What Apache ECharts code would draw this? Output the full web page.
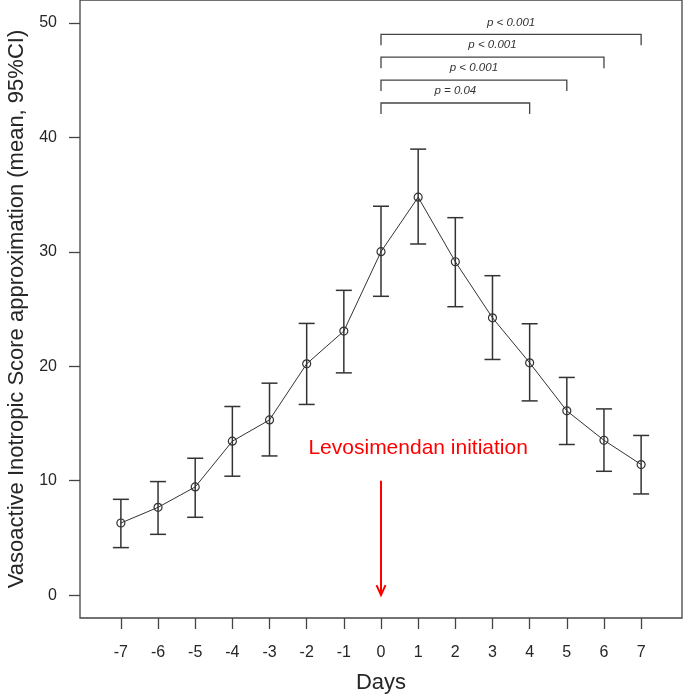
<!DOCTYPE html>
<html>
<head>
<meta charset="utf-8">
<script src="https://cdn.jsdelivr.net/npm/echarts@6/dist/echarts.min.js"></script>
<style>html,body{margin:0;padding:0;background:#fff}#chart{width:685px;height:697px}</style>
</head>
<body>
<div id="chart"></div>
<script>
// ---- data ----
const days = [-7, -6, -5, -4, -3, -2, -1, 0, 1, 2, 3, 4, 5, 6, 7];
const meanVIS = [6.30, 7.67, 9.45, 13.45, 15.31, 20.21, 23.07, 30.01, 34.77, 29.13, 24.23, 20.30, 16.10, 13.53, 11.41];
const ciLower = [4.15, 5.31, 6.80, 10.39, 12.16, 16.66, 19.42, 26.11, 30.68, 25.20, 20.59, 16.97, 13.16, 10.82, 8.84];
const ciUpper = [8.37, 9.92, 11.96, 16.48, 18.52, 23.74, 26.63, 33.98, 38.97, 32.98, 27.91, 23.71, 19.02, 16.27, 13.95];
const xTicks = [-7, -6, -5, -4, -3, -2, -1, 0, 1, 2, 3, 4, 5, 6, 7];
const yTicks = [0, 10, 20, 30, 40, 50];
const compStart = [0, 0, 0, 0];
const compEnd = [7, 6, 5, 4];
const compLevel = [49, 47, 45, 43];
const compLabels = ['p < 0.001', 'p < 0.001', 'p < 0.001', 'p = 0.04'];
const arrowDay = 0, arrowFrom = 10, arrowTo = 0;
const noteText = 'Levosimendan initiation';
const notePos = [1, 12.8];

const FONT = '"Liberation Sans", Arial, Helvetica, sans-serif';
const INK = '#262626';

const chart = echarts.init(document.getElementById('chart'));
const option = {
  animation: false,
  backgroundColor: '#fff',
  grid: { left: 80, right: 3, top: 0, bottom: 79, containLabel: false, outerBoundsMode: 'none',
          show: true, borderColor: '#444', borderWidth: 1.3, backgroundColor: 'transparent' },
  xAxis: {
    type: 'value', min: -8.1, max: 8.1,
    name: 'Days', nameLocation: 'middle', nameGap: 54,
    nameTextStyle: { fontFamily: FONT, fontSize: 22, color: INK },
    axisLine: { show: false, onZero: false },
    splitLine: { show: false },
    axisTick: { show: true, inside: false, length: 11, customValues: xTicks, lineStyle: { color: '#444', width: 1.3 } },
    axisLabel: { customValues: xTicks, margin: 27, fontFamily: FONT, fontSize: 16, color: INK }
  },
  yAxis: {
    type: 'value', min: -2, max: 52,
    name: 'Vasoactive Inotropic Score approximation (mean, 95%CI)', nameLocation: 'middle', nameGap: 52,
    nameTextStyle: { fontFamily: FONT, fontSize: 22, color: INK },
    axisLine: { show: false, onZero: false },
    splitLine: { show: false },
    axisTick: { show: true, inside: false, length: 11, customValues: yTicks, lineStyle: { color: '#444', width: 1.3 } },
    axisLabel: { customValues: yTicks, margin: 23, fontFamily: FONT, fontSize: 16, color: INK }
  },
  series: [
    {
      type: 'custom', name: 'ci', z: 2,
      data: days.map((d, i) => [d, ciLower[i], ciUpper[i]]),
      encode: { x: 0, y: [1, 2] },
      renderItem: function (params, api) {
        const x = api.value(0);
        const lo = api.coord([x, api.value(1)]);
        const hi = api.coord([x, api.value(2)]);
        const hw = 8;
        const st = { stroke: '#333', lineWidth: 1.5 };
        return { type: 'group', children: [
          { type: 'line', shape: { x1: hi[0], y1: hi[1], x2: lo[0], y2: lo[1] }, style: st },
          { type: 'line', shape: { x1: hi[0] - hw, y1: hi[1], x2: hi[0] + hw, y2: hi[1] }, style: st },
          { type: 'line', shape: { x1: lo[0] - hw, y1: lo[1], x2: lo[0] + hw, y2: lo[1] }, style: st }
        ]};
      }
    },
    {
      type: 'line', name: 'mean', z: 3,
      data: days.map((d, i) => [d, meanVIS[i]]),
      symbol: 'circle', symbolSize: 8,
      lineStyle: { color: '#333', width: 1 },
      itemStyle: { color: 'rgba(255,255,255,0)', borderColor: '#333', borderWidth: 1.2 }
    },
    {
      type: 'custom', name: 'brackets', z: 4,
      data: compEnd.map((e, i) => [compStart[i], e, compLevel[i]]),
      encode: { x: [0, 1], y: 2 },
      renderItem: function (params, api) {
        const a = api.coord([api.value(0), api.value(2)]);
        const b = api.coord([api.value(1), api.value(2)]);
        const drop = 11;
        return { type: 'group', children: [
          { type: 'polyline', shape: { points: [[a[0], a[1] + drop], [a[0], a[1]], [b[0], b[1]], [b[0], b[1] + drop]] },
            style: { stroke: '#444', lineWidth: 1.3, fill: null } },
          { type: 'text', x: (a[0] + b[0]) / 2, y: a[1] - 12,
            style: { text: compLabels[params.dataIndex], textAlign: 'center', textVerticalAlign: 'middle',
              font: 'italic 11.5px ' + FONT, fill: '#333' } }
        ]};
      }
    },
    {
      type: 'custom', name: 'annotation', z: 5,
      data: [[arrowDay, arrowFrom, arrowTo, notePos[0], notePos[1]]],
      encode: { x: [0, 3], y: [1, 2, 4] },
      renderItem: function (params, api) {
        const s = api.coord([api.value(0), api.value(1)]);
        const t = api.coord([api.value(0), api.value(2)]);
        const n = api.coord([api.value(3), api.value(4)]);
        const st = { stroke: '#ff0000', lineWidth: 2, fill: null };
        return { type: 'group', children: [
          { type: 'line', shape: { x1: s[0], y1: s[1], x2: t[0], y2: t[1] }, style: st },
          { type: 'polyline', shape: { points: [[t[0] - 4.5, t[1] - 10], [t[0], t[1]], [t[0] + 4.5, t[1] - 10]] }, style: st },
          { type: 'text', x: n[0], y: n[1],
            style: { text: noteText, textAlign: 'center', textVerticalAlign: 'middle', font: '21px ' + FONT, fill: '#ff0000' } }
        ]};
      }
    }
  ]
};
chart.setOption(option);
</script>
</body>
</html>
